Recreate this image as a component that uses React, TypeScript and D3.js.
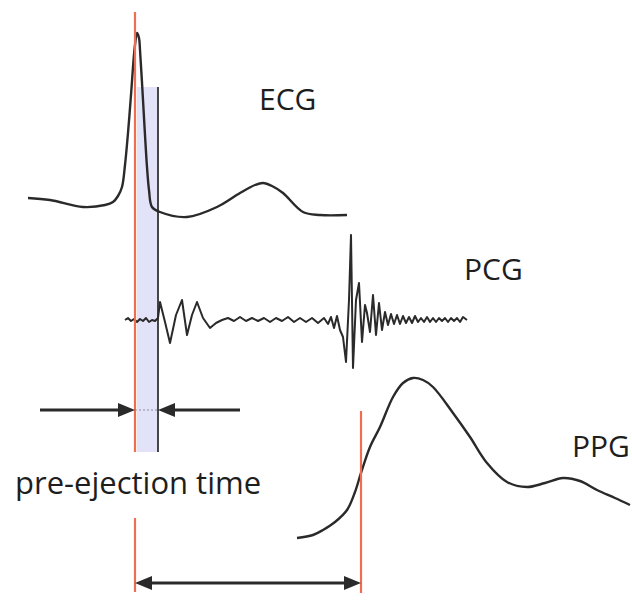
import React from "react";
import * as d3 from "d3";

// time axis (ms-like units) shared by all signals
const ecgT = [0, 22, 55, 77, 85, 90, 94, 97, 100, 103, 105, 107, 109, 111, 112, 115, 117, 119, 121, 124, 132, 159, 189, 212, 227, 235, 244, 255, 275, 292, 319];
const ecgV = [8.5, 7.5, 4, 5, 6.5, 9.5, 14, 25, 41, 60, 74, 85, 91, 88.5, 82.5, 57.5, 40, 24, 12.5, 4, 1.5, -1, 4, 11, 15, 16, 14.5, 11, 1.5, 0, 0];

const pcgT = [97, 100, 103, 106, 109, 112, 115, 118, 121, 124, 127, 130, 132, 137, 142, 148, 154, 159, 164, 169, 175, 182, 188, 194, 200, 206, 212, 218, 224, 230, 236, 242, 248, 254, 260, 266, 272, 278, 284, 290, 296, 300, 303, 306, 309, 312, 315, 318, 321, 323, 325, 328, 331, 334, 337, 339, 342, 345, 348, 351, 354, 357, 360, 363, 366, 369, 372, 375, 378, 381, 384, 387, 390, 393, 396, 399, 402, 405, 408, 411, 414, 417, 420, 423, 426, 429, 432, 435, 439];
const pcgV = [0, 0.4, -0.2, 0.2, -0.4, 0.2, -0.2, 0.4, -0.4, 0, -0.2, 0.4, 3.6, -0.4, -4.6, 1, 4, -3, 1, 3.6, 0.4, -1.6, -0.6, 0, 0.4, -0.2, 0.6, -0.2, 0.4, -0.2, 0.4, -0.4, 0.4, -0.2, 0.6, -0.4, 0.4, -0.4, 0.4, -0.6, 0.4, -0.8, 0.6, -1.6, 0.8, -2, -3.4, -8.4, 4, 17, -9.6, 4, 7.4, -4.4, 3, 1.4, -2.4, 5, -3, 3.4, -2, 1.6, -1, 1.2, -0.8, 1, -0.8, 0.8, -0.6, 0.6, -0.6, 0.8, -0.4, 0.4, -0.4, 0.6, -0.4, 0.4, -0.4, 0.4, -0.2, 0.4, -0.4, 0.4, -0.2, 0.4, -0.4, 0.6, 0];

const ppgT = [269, 285, 295, 307, 319, 327, 333, 342, 352, 365, 375, 385, 395, 405, 425, 442, 459, 479, 499, 517, 535, 552, 569, 587, 602];
const ppgV = [1, 2.5, 5, 9, 15, 24, 33.5, 46.5, 56.5, 71.5, 78.5, 81, 80, 76.5, 63.5, 51.5, 38.5, 29, 26.5, 28.5, 31, 29.5, 25, 21, 17.5];

// event markers (time)
const rPeakT = 107;      // ECG R reference
const ejectionT = 130;   // end of pre-ejection
const pulseArrivalT = 333;

const labels = ["ECG", "PCG", "PPG"];
const peLabel = "pre-ejection time";

const W = 632, H = 608;

export default function App() {
  const x = d3.scaleLinear().domain([0, 600]).range([28, 628]);
  const yE = d3.scaleLinear().domain([0, 100]).range([215, 15]);
  const yP = d3.scaleLinear().domain([-20, 20]).range([420, 220]);
  const yG = d3.scaleLinear().domain([0, 100]).range([540, 340]);

  const ecgLine = d3.line<number>().x((d, i) => x(ecgT[i])).y((d) => yE(d)).curve(d3.curveCatmullRom.alpha(0.5));
  const pcgLine = d3.line<number>().x((d, i) => x(pcgT[i])).y((d) => yP(d)).curve(d3.curveLinear);
  const ppgLine = d3.line<number>().x((d, i) => x(ppgT[i])).y((d) => yG(d)).curve(d3.curveCatmullRom.alpha(0.5));

  const red = "#ee6e52";
  const ink = "#2a2a2a";
  const xr = x(rPeakT), xe = x(ejectionT), xa = x(pulseArrivalT);
  const arrowY1 = 410, arrowY2 = 583;
  const head = (tipX: number, y: number, dir: number) =>
    `M${tipX},${y} L${tipX - dir * 17},${y - 7} L${tipX - dir * 17},${y + 7} Z`;
  const font = "'Open Sans', 'Noto Sans', sans-serif";

  return (
    <svg width={W} height={H} style={{ position: "fixed", left: 0, top: 0, background: "#fff" }}>
      {/* shaded pre-ejection band */}
      <rect x={xr + 2} y={87} width={xe - xr - 2} height={452 - 87} fill="#e2e2f8" />
      <line x1={xe} x2={xe} y1={87} y2={452} stroke="#333" strokeWidth={1.8} />

      {/* signals */}
      <path d={ecgLine(ecgV) || ""} fill="none" stroke={ink} strokeWidth={2.4} strokeLinejoin="round" />
      <path d={pcgLine(pcgV) || ""} fill="none" stroke={ink} strokeWidth={2} strokeLinejoin="round" />
      <path d={ppgLine(ppgV) || ""} fill="none" stroke={ink} strokeWidth={2.4} />

      {/* red markers */}
      <line x1={xr} x2={xr} y1={12} y2={452} stroke={red} strokeWidth={2.2} />
      <line x1={xr} x2={xr} y1={518} y2={592} stroke={red} strokeWidth={2.2} />
      <line x1={xa} x2={xa} y1={411} y2={593} stroke={red} strokeWidth={2.2} />

      {/* pre-ejection arrows */}
      <line x1={40} x2={xr - 14} y1={arrowY1} y2={arrowY1} stroke={ink} strokeWidth={3} />
      <path d={head(xr, arrowY1, 1)} fill={ink} />
      <line x1={240} x2={xe + 14} y1={arrowY1} y2={arrowY1} stroke={ink} strokeWidth={3} />
      <path d={head(xe, arrowY1, -1)} fill={ink} />
      <line x1={xr} x2={xe} y1={arrowY1} y2={arrowY1} stroke="#8a8aa0" strokeWidth={1} strokeDasharray="2,2" />

      {/* pulse arrival arrow */}
      <line x1={xr + 14} x2={xa - 14} y1={arrowY2} y2={arrowY2} stroke={ink} strokeWidth={3} />
      <path d={head(xr, arrowY2, -1)} fill={ink} />
      <path d={head(xa, arrowY2, 1)} fill={ink} />

      {/* labels */}
      <g fill="#1e1e1e" fontFamily={font} fontSize={30} fontWeight={500}>
        <text x={259} y={110}>{labels[0]}</text>
        <text x={464} y={280}>{labels[1]}</text>
        <text x={572} y={457}>{labels[2]}</text>
        <text x={15} y={494} fontSize={31}>{peLabel}</text>
      </g>
    </svg>
  );
}
